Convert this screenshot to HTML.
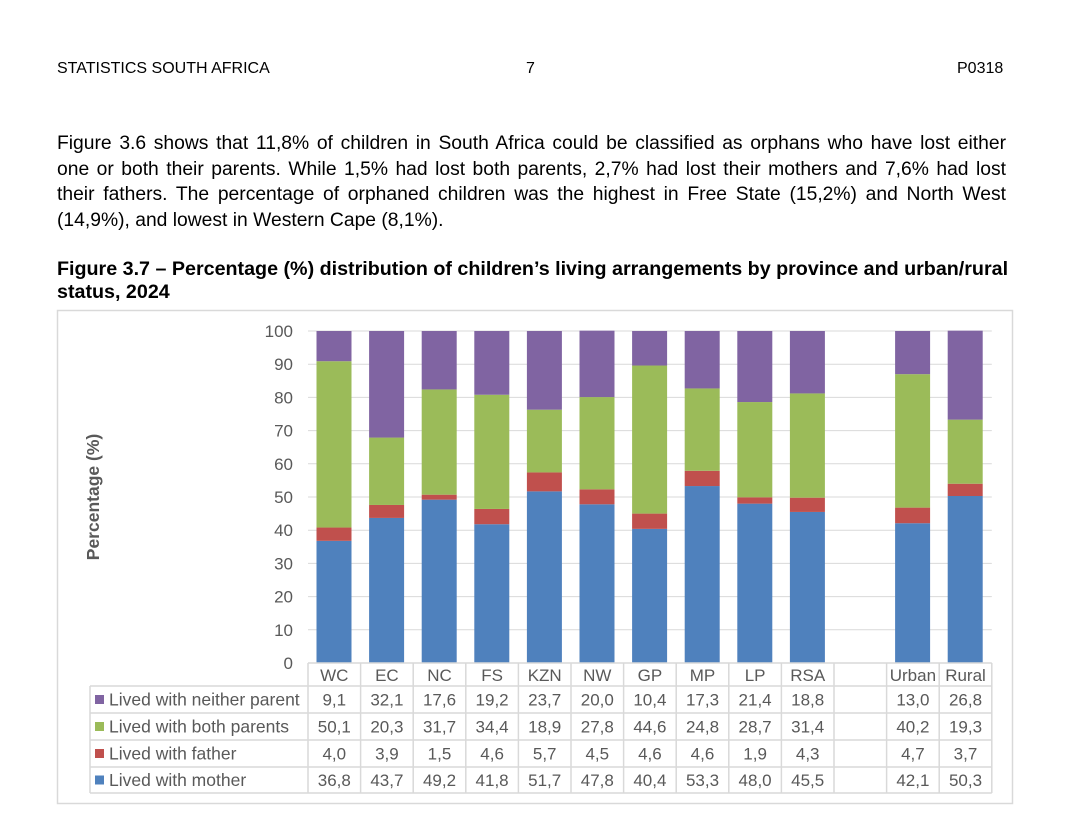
<!DOCTYPE html>
<html><head><meta charset="utf-8"><style>
body{margin:0;background:#fff;width:1090px;height:826px;overflow:hidden;font-family:"Liberation Sans",Arial,sans-serif;color:#000;position:relative}
.hdr{position:absolute;top:60px;font-size:16px}
.para{position:absolute;left:57px;top:131px;width:949px;font-size:19.3px;line-height:25.5px}
.para div{text-align:justify;text-align-last:justify;white-space:nowrap}
.para div.last{text-align-last:left}
.title{position:absolute;left:57px;top:258px;width:960px;font-size:19.7px;line-height:23px;font-weight:bold;white-space:nowrap}
svg{position:absolute;left:0;top:0}
svg text{font-family:"Liberation Sans",Arial,sans-serif}
</style></head><body>
<div class="hdr" style="left:57px">STATISTICS SOUTH AFRICA</div>
<div class="hdr" style="left:526px">7</div>
<div class="hdr" style="left:957px">P0318</div>
<div class="para">
<div>Figure 3.6 shows that 11,8% of children in South Africa could be classified as orphans who have lost either</div>
<div>one or both their parents. While 1,5% had lost both parents, 2,7% had lost their mothers and 7,6% had lost</div>
<div>their fathers. The percentage of orphaned children was the highest in Free State (15,2%) and North West</div>
<div class="last">(14,9%), and lowest in Western Cape (8,1%).</div>
</div>
<div class="title">Figure 3.7 – Percentage (%) distribution of children’s living arrangements by province and urban/rural<br>status, 2024</div>
<svg id="chart" width="1090" height="826"></svg>
<script>
const categories=["WC","EC","NC","FS","KZN","NW","GP","MP","LP","RSA","","Urban","Rural"];
const mother=[36.8,43.7,49.2,41.8,51.7,47.8,40.4,53.3,48.0,45.5,null,42.1,50.3];
const father=[4.0,3.9,1.5,4.6,5.7,4.5,4.6,4.6,1.9,4.3,null,4.7,3.7];
const both=[50.1,20.3,31.7,34.4,18.9,27.8,44.6,24.8,28.7,31.4,null,40.2,19.3];
const neither=[9.1,32.1,17.6,19.2,23.7,20.0,10.4,17.3,21.4,18.8,null,13.0,26.8];
const yTicks=[0,10,20,30,40,50,60,70,80,90,100];
const seriesNames=["Lived with neither parent","Lived with both parents","Lived with father","Lived with mother"];
const seriesData=[neither,both,father,mother];
const seriesColors=["#8064a2","#9bbb59","#c0504d","#4f81bd"];

const svg=document.getElementById('chart');
const NS='http://www.w3.org/2000/svg';
const x0=308,colW=52.6,y0=663,yTop=331;
const yS=v=>y0-(v/100)*(y0-yTop);
const xS=i=>x0+i*colW;
function mk(t,a){const e=document.createElementNS(NS,t);for(const k in a)e.setAttribute(k,a[k]);svg.appendChild(e);return e;}

let frame=mk('rect',{x:57.5,y:310.5,width:955,height:493,fill:'none',stroke:'#d9d9d9','stroke-width':1.5});



yTicks.forEach(t=>{
  if(t>0){const g=mk('line',{x1:x0,x2:xS(categories.length),y1:yS(t),y2:yS(t),stroke:'#d9d9d9','stroke-width':1});
  
  }
  const l=mk('text',{x:293,y:yS(t)+6,'text-anchor':'end','font-size':17,fill:'#595959'});l.textContent=t;
  
  
});
const yt=mk('text',{x:0,y:0,transform:'translate(99,497) rotate(-90)','text-anchor':'middle','font-size':17.5,'font-weight':'bold',fill:'#595959'});
yt.textContent='Percentage (%)';



const stackOrder=[mother,father,both,neither];
const stackColors=["#4f81bd","#c0504d","#9bbb59","#8064a2"];
const stackNames=["mother","father","both","neither"];
categories.forEach((c,i)=>{
  if(mother[i]==null)return;
  let cum=0;
  stackOrder.forEach((s,k)=>{
    const v=s[i];
    const r=mk('rect',{x:xS(i)+8.5,width:35,y:yS(cum+v),height:yS(cum)-yS(cum+v),fill:stackColors[k]});
    
    
    cum+=v;
  });
});

const rowTop=[663,686,713,740,767,793];
const gc='#d9d9d9';
const tabLeft=90,tabRight=xS(categories.length);
for(let r=0;r<rowTop.length;r++){
  const l=mk('line',{x1:r===0?x0:tabLeft,x2:tabRight,y1:rowTop[r],y2:rowTop[r],stroke:gc,'stroke-width':1.5});
  
  
}
for(let i=0;i<=categories.length;i++){
  const l=mk('line',{x1:xS(i),x2:xS(i),y1:663,y2:793,stroke:gc,'stroke-width':1.5});
  
  
}
const lv=mk('line',{x1:tabLeft,x2:tabLeft,y1:686,y2:793,stroke:gc,'stroke-width':1.5});


categories.forEach((c,i)=>{
  const t=mk('text',{x:xS(i)+colW/2,y:681,'text-anchor':'middle','font-size':17,fill:'#595959'});t.textContent=c;
  
  
});
seriesNames.forEach((n,r)=>{
  const cy=(rowTop[r+1]+rowTop[r+2])/2;
  const sw=mk('rect',{x:95,y:cy-4.5,width:9,height:9,fill:seriesColors[r]});
  
  
  const t=mk('text',{x:109,y:cy+6,'font-size':17.5,fill:'#595959'});t.textContent=n;
  
  
  seriesData[r].forEach((v,i)=>{
    if(v==null)return;
    const tv=mk('text',{x:xS(i)+colW/2,y:cy+6,'text-anchor':'middle','font-size':17,fill:'#595959'});
    tv.textContent=v.toFixed(1).replace('.',',');
    
    
  });
});
</script>
</body></html>
